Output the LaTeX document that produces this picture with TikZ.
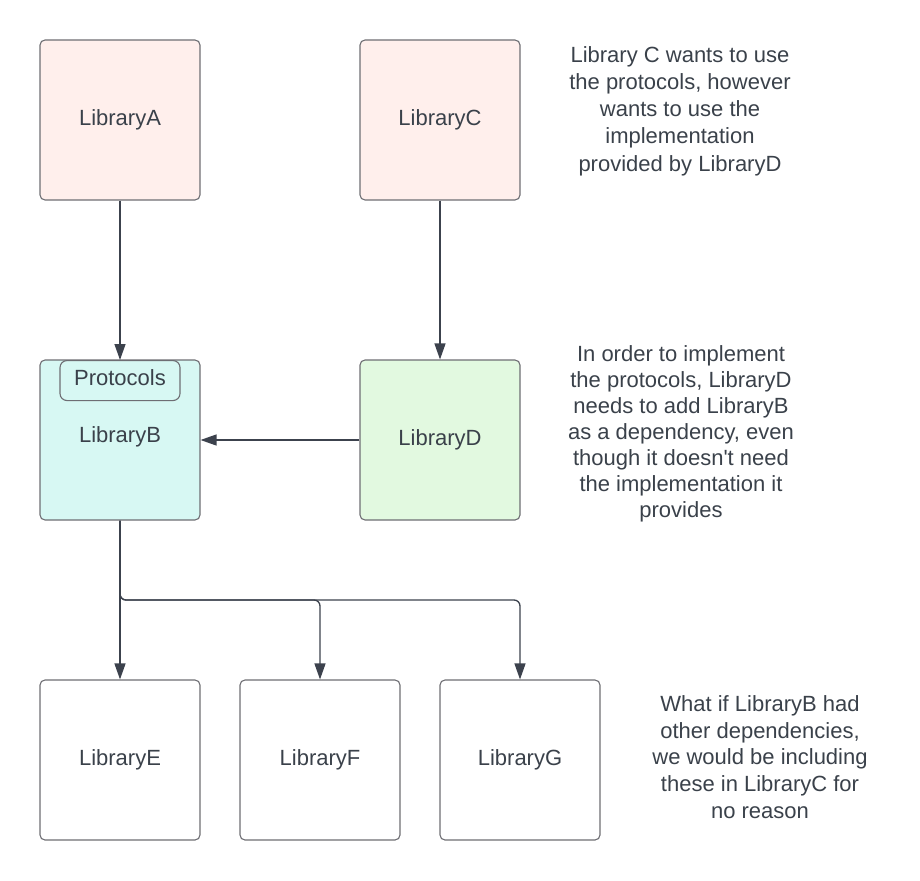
\documentclass[tikz,border=0pt]{standalone}
\usepackage{fontspec}
\setmainfont{Liberation Sans}
\usetikzlibrary{arrows.meta}
\definecolor{txt}{HTML}{3A414A}
\definecolor{stroke}{HTML}{6E6E73}
\definecolor{arr}{HTML}{3C424D}
\definecolor{pinkf}{HTML}{FFEFEC}
\definecolor{cyanf}{HTML}{D7F8F3}
\definecolor{greenf}{HTML}{E2F9E0}
\tikzset{
  lib/.style={draw=stroke, line width=1.1pt, rounded corners=5pt, minimum width=160pt, minimum height=160pt, inner sep=0pt, text=txt, font=\fontsize{22}{26}\selectfont},
  proto/.style={draw=stroke, line width=1.1pt, rounded corners=7pt, minimum width=120pt, minimum height=40pt, inner sep=0pt},
  lbl/.style={text=txt, font=\fontsize{22}{26}\selectfont, inner sep=0pt},
  note/.style={text=txt, align=center, font=\fontsize{22}{27.2}\selectfont, inner sep=0pt},
  conn/.style={draw=arr, line width=1.3pt, -{Triangle[length=16pt,width=11pt]}, rounded corners=6pt},
}
\begin{document}
\begin{tikzpicture}[x=1pt,y=-1pt]
\useasboundingbox (0,0) rectangle (920,880);
\node[lib, fill=pinkf] (A) at (120,120) {LibraryA};
\node[lib, fill=pinkf] (C) at (440,120) {LibraryC};
\node[lib, fill=cyanf] (B) at (120,440) {};
\node[lbl] (Blabel) at (120,437) {LibraryB};
\node[proto, anchor=north] (P) at (120,360) {};
\node[lbl] (Plabel) at (120,378) {Protocols};
\node[lib, fill=greenf] (D) at (440,440) {LibraryD};
\node[lib, fill=white] (E) at (120,760) {LibraryE};
\node[lib, fill=white] (F) at (320,760) {LibraryF};
\node[lib, fill=white] (G) at (520,760) {LibraryG};

\node[note] (n1) at (680,111) {Library C wants to use\\the protocols, however\\wants to use the\\implementation\\provided by LibraryD};
\node[note, font=\fontsize{22}{26}\selectfont] (n2) at (681,434) {In order to implement\\the protocols, LibraryD\\needs to add LibraryB\\as a dependency, even\\though it doesn\textquotesingle t need\\the implementation it\\provides};
\node[note, font=\fontsize{22}{26.8}\selectfont] (n3) at (760,757) {What if LibraryB had\\other dependencies,\\we would be including\\these in LibraryC for\\no reason};

\coordinate (split) at (120,600);
\draw[conn] (A.south) -- (P.north);
\draw[conn] (C.south) -- (D.north);
\draw[conn] (D.west) -- (B.east);
\draw[conn] (B.south) -- (E.north);
\draw[conn] (B.south) -- (split) -| (F.north);
\draw[conn] (B.south) -- (split) -| (G.north);
\end{tikzpicture}
\end{document}
